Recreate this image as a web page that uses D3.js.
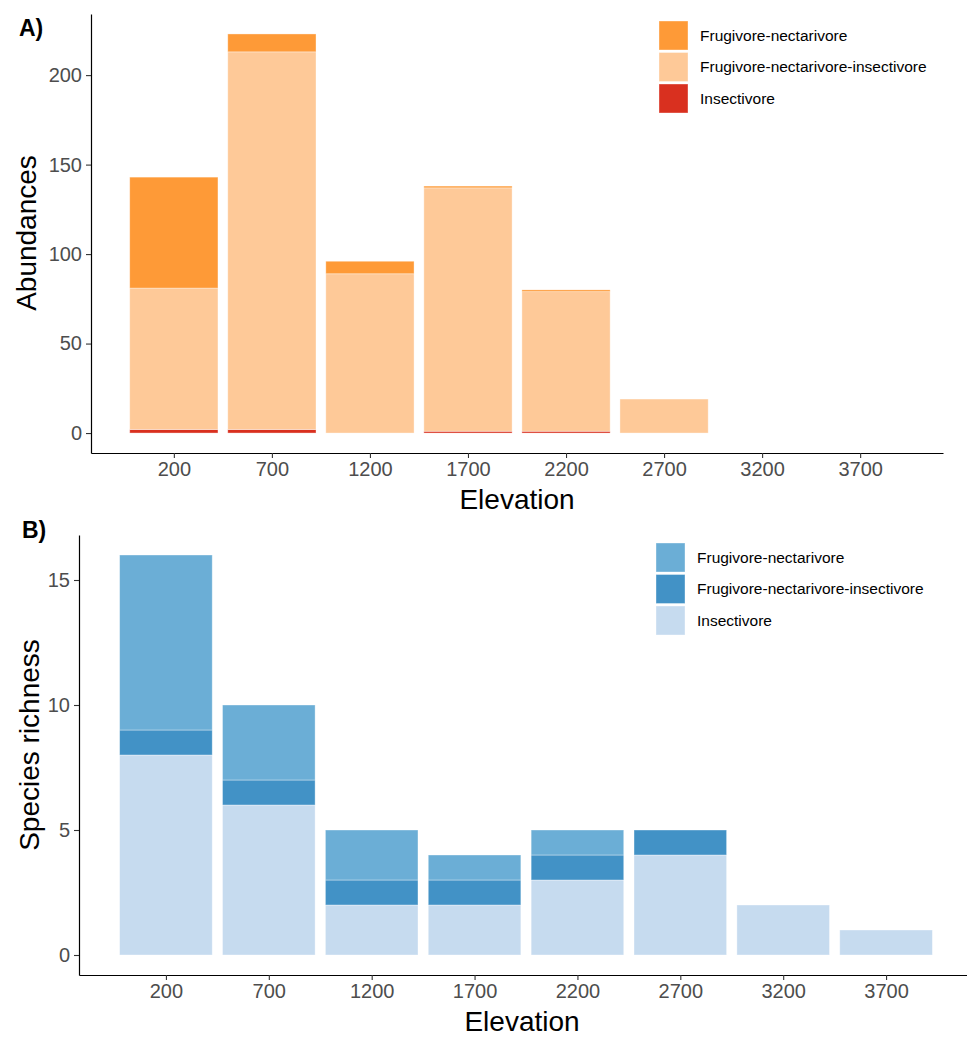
<!DOCTYPE html>
<html>
<head>
<meta charset="utf-8">
<script src="https://cdn.jsdelivr.net/npm/d3@7"></script>
<style>
  body { margin: 0; background: #fff; }
  svg { display: block; font-family: "Liberation Sans", Arial, sans-serif; }
</style>
</head>
<body>
<svg id="chart" width="967" height="1037"></svg>
<script>
// Elevation bands (m)
const elevations = [200, 700, 1200, 1700, 2200, 2700, 3200, 3700];
const guilds = ["Frugivore-nectarivore", "Frugivore-nectarivore-insectivore", "Insectivore"];

// Panel A: abundances per guild at each elevation
const abundFrugNect       = [62, 10, 7, 1, 1, 0, 0, 0];
const abundFrugNectInsect = [79, 211, 89, 136, 78, 19, 0, 0];
const abundInsect         = [2, 2, 0, 1, 1, 0, 0, 0];

// Panel B: species richness per guild at each elevation
const richFrugNect       = [7, 3, 2, 1, 1, 0, 0, 0];
const richFrugNectInsect = [1, 1, 1, 1, 1, 1, 0, 0];
const richInsect         = [8, 6, 2, 2, 3, 4, 2, 1];

const yTicksA = [0, 50, 100, 150, 200];
const yTicksB = [0, 5, 10, 15];

const svg = d3.select("#chart");

function panel(opt) {
  const rows = elevations.map((e, i) => ({
    elev: e,
    "Frugivore-nectarivore": opt.series[0][i],
    "Frugivore-nectarivore-insectivore": opt.series[1][i],
    "Insectivore": opt.series[2][i]
  }));
  // stacked from the bottom: Insectivore, then FNI, then FN
  const stack = d3.stack().keys(guilds.slice().reverse())(rows);

  const binW = 500, barW = binW * 0.9;
  const xMin = d3.min(elevations) - barW / 2, xMax = d3.max(elevations) + barW / 2;
  const xPad = (xMax - xMin) * 0.05;
  const x = d3.scaleLinear().domain([xMin - xPad, xMax + xPad]).range(opt.xRange);

  const yMax = d3.max(rows, r => guilds.reduce((s, k) => s + r[k], 0));
  const yPad = yMax * 0.05;
  const y = d3.scaleLinear().domain([-yPad, yMax + yPad]).range(opt.yRange);

  const color = d3.scaleOrdinal().domain(guilds).range(opt.colors);

  const g = svg.append("g");

  g.selectAll("g.layer").data(stack).join("g")
    .attr("fill", d => color(d.key))
    .selectAll("rect").data(d => d.filter(p => p[1] - p[0] > 0)).join("rect")
    .attr("x", d => x(d.data.elev - barW / 2))
    .attr("width", d => x(d.data.elev + barW / 2) - x(d.data.elev - barW / 2))
    .attr("y", d => y(d[1]))
    .attr("height", d => y(d[0]) - y(d[1]))
    .attr("stroke", "#fff")
    .attr("stroke-opacity", 0.45)
    .attr("stroke-width", 0.8);

  // x axis
  const xa = g.append("g").attr("transform", `translate(0,${opt.yRange[0]})`)
    .call(d3.axisBottom(x).tickValues(elevations).tickFormat(d3.format("d")).tickSize(5).tickSizeOuter(0).tickPadding(4));
  xa.select(".domain").attr("stroke", "#000").attr("stroke-width", 1.2);
  xa.selectAll(".tick line").attr("stroke", "#333").attr("stroke-width", 1.1);
  xa.selectAll(".tick text").attr("fill", "#4d4d4d").attr("font-size", 20).attr("font-family", "Liberation Sans, Arial, sans-serif");

  // y axis
  const ya = g.append("g").attr("transform", `translate(${opt.xRange[0]},0)`)
    .call(d3.axisLeft(y).tickValues(opt.yTicks).tickSize(5).tickSizeOuter(0).tickPadding(4));
  ya.select(".domain").attr("stroke", "#000").attr("stroke-width", 1.2);
  ya.selectAll(".tick line").attr("stroke", "#333").attr("stroke-width", 1.1);
  ya.selectAll(".tick text").attr("fill", "#4d4d4d").attr("font-size", 20).attr("font-family", "Liberation Sans, Arial, sans-serif");

  // axis titles
  g.append("text")
    .attr("x", opt.xTitlePos[0]).attr("y", opt.xTitlePos[1])
    .attr("text-anchor", "middle").attr("font-size", 28).attr("fill", "#000")
    .text("Elevation");
  g.append("text")
    .attr("transform", `translate(${opt.yTitlePos[0]},${opt.yTitlePos[1]}) rotate(-90)`)
    .attr("text-anchor", "middle").attr("font-size", 28).attr("fill", "#000")
    .text(opt.yTitle);

  // panel tag
  g.append("text")
    .attr("x", opt.tagPos[0]).attr("y", opt.tagPos[1])
    .attr("font-size", 23).attr("font-weight", "bold").attr("fill", "#000")
    .text(opt.tag);

  // legend
  const lg = g.append("g").attr("transform", `translate(${opt.legendPos[0]},${opt.legendPos[1]})`);
  guilds.forEach((k, i) => {
    lg.append("rect")
      .attr("x", 0).attr("y", i * 31.5)
      .attr("width", 29).attr("height", 29)
      .attr("fill", color(k))
      .attr("stroke", "#fff").attr("stroke-opacity", 0.45).attr("stroke-width", 0.8);
    lg.append("text")
      .attr("x", 41).attr("y", i * 31.5 + 14.5)
      .attr("dy", "0.35em")
      .attr("font-size", 15.5).attr("fill", "#000")
      .text(k);
  });
}

panel({
  series: [abundFrugNect, abundFrugNectInsect, abundInsect],
  colors: ["#fe9a37", "#fec998", "#d9301f"],
  xRange: [91, 943],
  yRange: [453, 14],
  yTicks: yTicksA,
  yTitle: "Abundances",
  xTitlePos: [517, 509],
  yTitlePos: [36, 233],
  tag: "A)",
  tagPos: [19, 36],
  legendPos: [659, 21]
});

panel({
  series: [richFrugNect, richFrugNectInsect, richInsect],
  colors: ["#6baed6", "#4292c6", "#c6dbef"],
  xRange: [79, 973],
  yRange: [975, 535],
  yTicks: yTicksB,
  yTitle: "Species richness",
  xTitlePos: [522, 1031],
  yTitlePos: [39, 745],
  tag: "B)",
  tagPos: [22, 538],
  legendPos: [656, 543]
});
</script>
</body>
</html>
